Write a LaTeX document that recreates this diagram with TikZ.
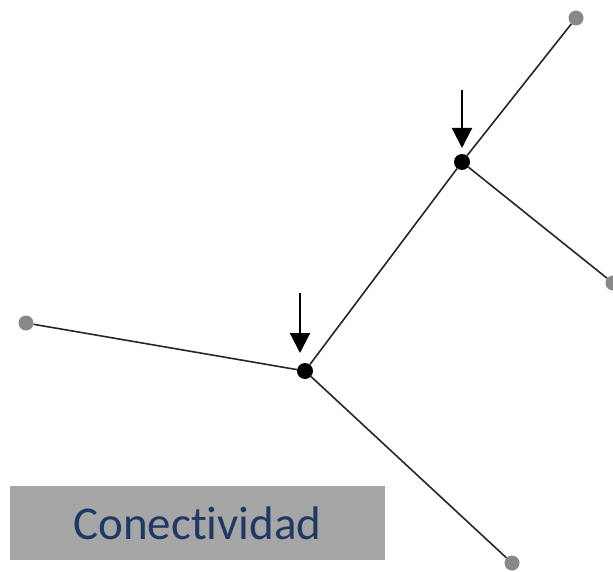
\documentclass[tikz,border=0pt]{standalone}
\usepackage{fontspec}
\setmainfont[Ligatures=NoCommon]{Carlito}
\usetikzlibrary{arrows.meta}
\definecolor{endgray}{HTML}{888888}
\definecolor{boxgray}{HTML}{A6A6A6}
\definecolor{navy}{HTML}{1F3864}
\begin{document}
\begin{tikzpicture}[x=1pt,y=-1pt,
  hub/.style={circle,fill=black,inner sep=0pt,minimum size=16pt},
  tip/.style={circle,fill=endgray,inner sep=0pt,minimum size=15pt},
  edge/.style={line width=1.6pt,draw=black!85},
  pointer/.style={line width=2.2pt,-{Triangle[length=20pt,width=20pt]}}]
\useasboundingbox (0,0) rectangle (613,572);
\node[hub] (A) at (462,162) {};
\node[hub] (B) at (305,371) {};
\node[tip] (T1) at (576,18) {};
\node[tip] (T2) at (613,283) {};
\node[tip] (T3) at (26,323) {};
\node[tip] (T4) at (512,563) {};
\draw[edge] (A) -- (T1);
\draw[edge] (A) -- (T2);
\draw[edge] (A) -- (B);
\draw[edge] (B) -- (T3);
\draw[edge] (B) -- (T4);
\coordinate (pa) at (462,90);
\coordinate (pb) at (300,293);
\draw[pointer] (pa) -- (462,148);
\draw[pointer] (pb) -- (300,353);
\node[fill=boxgray,minimum width=375pt,minimum height=74pt,inner sep=0pt,
  text=navy,font=\fontsize{47}{50}\selectfont] (label) at (197.5,523) {Conectividad};
\end{tikzpicture}
\end{document}
